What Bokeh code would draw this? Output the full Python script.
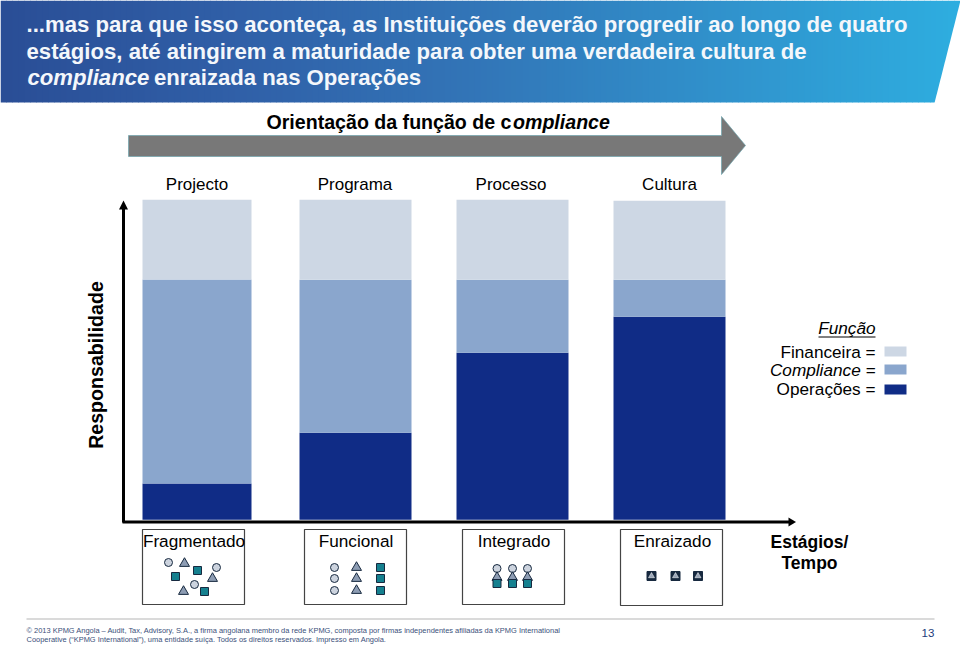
from bokeh.plotting import figure
from bokeh.models import Range1d, ColumnDataSource
from bokeh.core.properties import value
from bokeh.embed import file_html
from bokeh.resources import INLINE

# ---- data -------------------------------------------------------------
stages = ["Projecto", "Programa", "Processo", "Cultura"]
operacoes = [11.3, 27.2, 52.2, 63.4]
compliance = [63.8, 47.8, 22.8, 11.6]
financeira = [24.9, 25.0, 25.0, 24.7]
bar_centers = [196.5, 355, 512, 669]
bar_widths = [109, 112, 112, 112]
stage_labels = ["Fragmentado", "Funcional", "Integrado", "Enraizado"]
title_lines = ["...mas para que isso aconteça, as Instituições deverão progredir ao longo de quatro",
               "estágios, até atingirem a maturidade para obter uma verdadeira cultura de"]
legend_labels = ["Financeira =", "Compliance =", "Operações ="]
footer_lines = ["© 2013 KPMG Angola – Audit, Tax, Advisory, S.A., a firma angolana membro da rede KPMG, composta por firmas independentes afiliadas da KPMG International",
                "Cooperative (“KPMG International”), uma entidade suíça. Todos os direitos reservados. Impresso em Angola."]

C_FIN, C_COMP, C_OPS = "#cdd7e4", "#8aa6cd", "#102c86"
FONT = "Liberation Sans"

W, H = 960, 648
p = figure(width=W, height=H, output_backend="svg", toolbar_location=None,
           x_range=Range1d(0, W), y_range=Range1d(H, 0), min_border=0,
           outline_line_color=None)
p.xaxis.visible = False
p.yaxis.visible = False
p.grid.visible = False
p.background_fill_color = "white"
p.border_fill_color = "white"

# value axis for the stacked bars: 0 sits on the baseline, 100 on the bar tops
PX_PER_UNIT = 3.2
BASE = 519.2
p.extra_y_ranges = {"resp": Range1d((BASE - H) / PX_PER_UNIT, BASE / PX_PER_UNIT)}

def lerp(a, b, t):
    return int(round(a + (b - a) * t))

# header band
def band_color(x):
    stops = [(0, (42, 78, 150)), (240, (48, 96, 168)), (480, (50, 118, 184)), (720, (48, 146, 204)), (960, (46, 174, 224))]
    for (x0, c0), (x1, c1) in zip(stops, stops[1:]):
        if x <= x1:
            t = (x - x0) / (x1 - x0)
            return "#%02x%02x%02x" % tuple(lerp(a, b, t) for a, b in zip(c0, c1))
    return "#2eaee0"

step = 6
xs = list(range(0, 960, step))
p.quad(left=xs, right=[x + step + 0.5 for x in xs], top=[0] * len(xs), bottom=[102] * len(xs),
       color=[band_color(x) for x in xs], line_color=None)
p.patch([934, 960, 961, 961, 934], [102.5, 0, 0, 103, 103], color="white", line_color=None)

def txt(x, y, s, size, color="black", style="normal", align="left", base="middle", angle=0):
    p.text([x], [y], text=[s], text_font=value(FONT), text_font_size=f"{size}px", text_color=color,
           text_font_style=style, text_align=align, text_baseline=base, angle=angle)

TC = "#f4f7fb"
txt(26, 24, title_lines[0], 22.15, TC, "bold")
txt(26, 50.5, title_lines[1], 22.15, TC, "bold")
txt(27, 77, "compliance", 22.15, TC, "bold italic")
txt(153.5, 77, "enraizada nas Operações", 22.15, TC, "bold")

# subtitle + arrow
txt(266, 121.5, "Orientação da função de c", 19.6, "black", "bold")
txt(512.5, 121.5, "ompliance", 19.6, "black", "bold italic")
p.patch([128, 721, 721, 745, 721, 721, 128], [135, 135, 116, 145, 174, 156, 156],
        color="#787878", line_color="#6fa3ad", line_width=0.7)

# stacked bars
src = ColumnDataSource(dict(x=bar_centers, w=bar_widths, ops=operacoes, comp=compliance, fin=financeira,
                            ops_top=operacoes,
                            comp_top=[a + b for a, b in zip(operacoes, compliance)],
                            fin_top=[a + b + c for a, b, c in zip(operacoes, compliance, financeira)],
                            zero=[0] * 4))
p.vbar(x="x", width="w", bottom="zero", top="ops_top", source=src, color=C_OPS, line_color=None, y_range_name="resp")
p.vbar(x="x", width="w", bottom="ops_top", top="comp_top", source=src, color=C_COMP, line_color=None, y_range_name="resp")
p.vbar(x="x", width="w", bottom="comp_top", top="fin_top", source=src, color=C_FIN, line_color=None, y_range_name="resp")

for s, c in zip(stages, [196.5, 354.5, 510.5, 669]):
    txt(c, 184, s, 17, "black", align="center")

# axes
p.segment([123], [522], [123], [208], line_color="black", line_width=3)
p.patch([118.5, 123, 127.5], [209, 200, 209], color="black", line_color=None)
p.segment([122], [521.5], [790], [521.5], line_color="black", line_width=3)
p.patch([788, 795.5, 788], [517, 521.5, 526], color="black", line_color=None)
txt(95.5, 364.5, "Responsabilidade", 19.6, "black", "bold", "center", angle=1.5708)

# maturity boxes
boxes = [(142, 244, 529, 604), (304, 406, 529, 604), (462, 564, 529, 604), (620, 722, 529, 605)]
label_x = [193.5, 355.5, 513.5, 672]
for (l, r, t, b), s, lx in zip(boxes, stage_labels, label_x):
    p.quad(left=[l], right=[r], top=[t], bottom=[b], fill_color="white", line_color="#444444", line_width=1.2)
    txt(lx, 540.5, s, 17.2, "black", "normal", "center")

GC, GT, GS = "#ccd3de", "#8d9cb3", "#15808f"
OUT = "#17293f"
def circ(x, y):
    p.scatter([x], [y], marker="circle", size=8, fill_color=GC, line_color=OUT, line_width=1)
def tri(x, y):
    p.scatter([x], [y], marker="triangle", size=10, fill_color=GT, line_color=OUT, line_width=1)
def sq(x, y):
    p.scatter([x], [y], marker="square", size=8, fill_color=GS, line_color=OUT, line_width=1)

# Fragmentado
for x, y in [(168, 562), (216, 567), (194, 584)]:
    circ(x, y)
for x, y in [(184, 563), (212, 578), (183, 591)]:
    tri(x, y)
for x, y in [(197, 570), (175, 576), (204, 591)]:
    sq(x, y)
# Funcional
for y in [567, 578, 590]:
    circ(334, y)
    tri(356, y)
    sq(380, y)
# Integrado
for x in [496.5, 512, 527]:
    circ(x, 568)
    tri(x, 577)
    sq(x, 583)
# Enraizado
for x in [651, 675, 697.5]:
    p.scatter([x], [575.5], marker="square", size=9, fill_color="#17293f", line_color="#17293f")
    p.scatter([x], [575.5], marker="triangle", size=6, fill_color="#9aa6b8", line_color="white", line_width=0.5)

txt(809, 541, "Estágios/", 17.5, "black", "bold", "center")
txt(809, 562, "Tempo", 17.5, "black", "bold", "center")

# legend
txt(875, 327, "Função", 17.2, "black", "italic", "right")
p.segment([818], [336.5], [875], [336.5], line_color="black", line_width=1)
txt(875, 351, legend_labels[0], 17.2, "black", "normal", "right")
txt(875, 369.5, legend_labels[1], 17.2, "black", "italic", "right")
txt(875, 388.5, legend_labels[2], 17.2, "black", "normal", "right")
p.quad(left=[884] * 3, right=[906] * 3, top=[346, 364, 384], bottom=[356, 374, 394],
       color=[C_FIN, C_COMP, C_OPS], line_color=None)

# footer
p.segment([26], [618.5], [934], [618.5], line_color="#b5b5b5", line_width=1)
txt(26, 630, footer_lines[0], 7.46, "#3a4f7a")
txt(26, 638.5, footer_lines[1], 7.46, "#3a4f7a")
txt(927.5, 632, "13", 11.5, "#1b3a7a", "normal", "center")

open("out.html", "w").write(file_html(p, INLINE))
